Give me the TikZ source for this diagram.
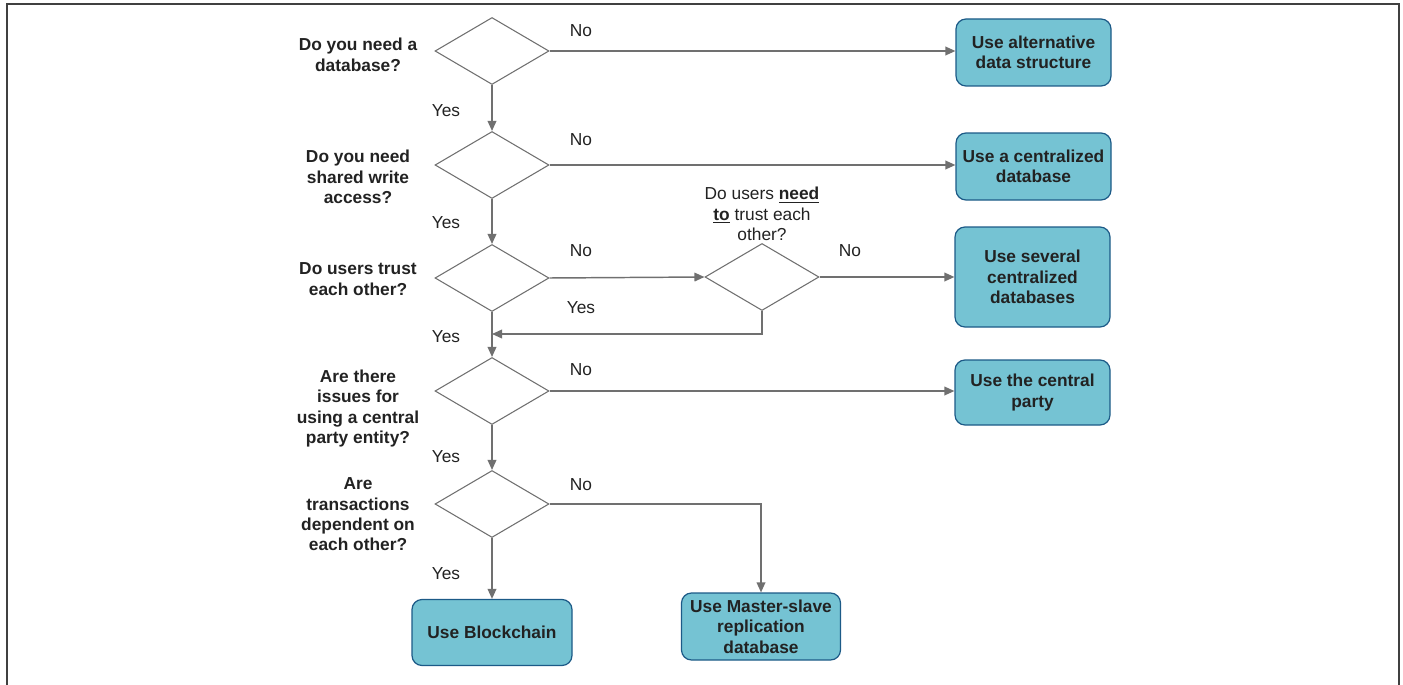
\documentclass[tikz,border=0pt]{standalone}
\usepackage{fontspec}
\setmainfont{Liberation Sans}
\usetikzlibrary{shapes.geometric,arrows.meta}
\definecolor{linegray}{HTML}{707070}
\definecolor{framegray}{HTML}{404040}
\definecolor{boxfill}{HTML}{75C3D3}
\definecolor{boxline}{HTML}{1C5A87}
\definecolor{txt}{HTML}{222222}
\begin{document}
\begin{tikzpicture}[x=0.75pt,y=-0.75pt,
  every node/.style={font=\fontsize{13}{15.3}\selectfont, text=txt},
  dec/.style={draw=linegray, line width=0.8pt, shape=diamond, minimum width=85.5pt, minimum height=50.25pt, inner sep=0pt},
  endbox/.style={draw=boxline, fill=boxfill, line width=0.9pt, rounded corners=7.5pt, align=center, font=\bfseries\fontsize{13}{15.3}\selectfont, inner sep=0pt, minimum width=116.25pt},
  qlabel/.style={align=center, font=\bfseries\fontsize{13}{15.3}\selectfont, inner sep=0pt},
  ans/.style={inner sep=0pt},
  flow/.style={draw=linegray, line width=1.1pt, -{Triangle[length=7.5pt,width=6.5pt]}},
  frame/.style={draw=framegray, line width=1.1pt}]
\useasboundingbox (0,0) rectangle (1403,685);
\draw[frame] (7,685) -- (7,4) -- (1399,4) -- (1399,685);

% decisions
\node[dec] (q1) at (492,51) {};
\node[dec] (q2) at (492,165) {};
\node[dec] (q3) at (492,278) {};
\node[dec] (q3b) at (762,277) {};
\node[dec] (q4) at (492,391) {};
\node[dec] (q5) at (492,504) {};

% question labels
\node[qlabel] (l1) at (358,55) {Do you need a\\database?};
\node[qlabel] (l2) at (358,177) {Do you need\\shared write\\access?};
\node[qlabel] (l3) at (358,279) {Do users trust\\each other?};
\node[qlabel] (l4) at (358,408.5) {Are there\\issues for\\using a central\\party entity?};
\node[qlabel] (l5) at (358,514.5) {Are\\transactions\\dependent on\\each other?};
\node[align=center, inner sep=0pt] (l3b) at (762,214) {Do users \textbf{\underline{need}}\\\textbf{\underline{to}} trust each\\other?};

% end boxes
\node[endbox, minimum height=50.25pt] (b1) at (1033.5,52.5) {Use alternative\\data structure};
\node[endbox, minimum height=50.25pt] (b2) at (1033.5,166.5) {Use a centralized\\database};
\node[endbox, minimum height=75pt] (b3) at (1032.5,277) {Use several\\centralized\\databases};
\node[endbox, minimum height=48.75pt] (b4) at (1032.5,392.5) {Use the central\\party};
\node[endbox, minimum width=120pt, minimum height=49.5pt] (bc) at (492,632.5) {Use Blockchain};
\node[endbox, minimum width=119.25pt, minimum height=50.25pt] (ms) at (761,626.5) {Use Master-slave\\replication\\database};

% connectors
\coordinate (m) at (492,334);
\draw[flow] (q1.east) -- (q1.east -| b1.west);
\draw[flow] (q1.south) -- (q2.north);
\draw[flow] (q2.east) -- (q2.east -| b2.west);
\draw[flow] (q2.south) -- (q3.north);
\draw[flow] (q3.east) -- (q3b.west);
\draw[flow] (q3b.east) -- (q3b.east -| b3.west);
\draw[flow] (q3b.south) |- (m);
\draw[flow] (q3.south) -- (q4.north);
\draw[flow] (q4.east) -- (q4.east -| b4.west);
\draw[flow] (q4.south) -- (q5.north);
\draw[flow] (q5.south) -- (bc.north);
\draw[flow] (q5.east) -| (ms.north);

% answer labels
\node[ans] (n1) at (581,30.5) {No};
\node[ans] (n2) at (581,139.5) {No};
\node[ans] (n3) at (581,250.5) {No};
\node[ans] (n3b) at (850,250.5) {No};
\node[ans] (n4) at (581,369.5) {No};
\node[ans] (n5) at (581,484.5) {No};
\node[ans] (y1) at (446,110.5) {Yes};
\node[ans] (y2) at (446,222.5) {Yes};
\node[ans] (y3) at (446,336.5) {Yes};
\node[ans] (y3b) at (581,307.5) {Yes};
\node[ans] (y4) at (446,456.5) {Yes};
\node[ans] (y5) at (446,573.5) {Yes};
\end{tikzpicture}
\end{document}
